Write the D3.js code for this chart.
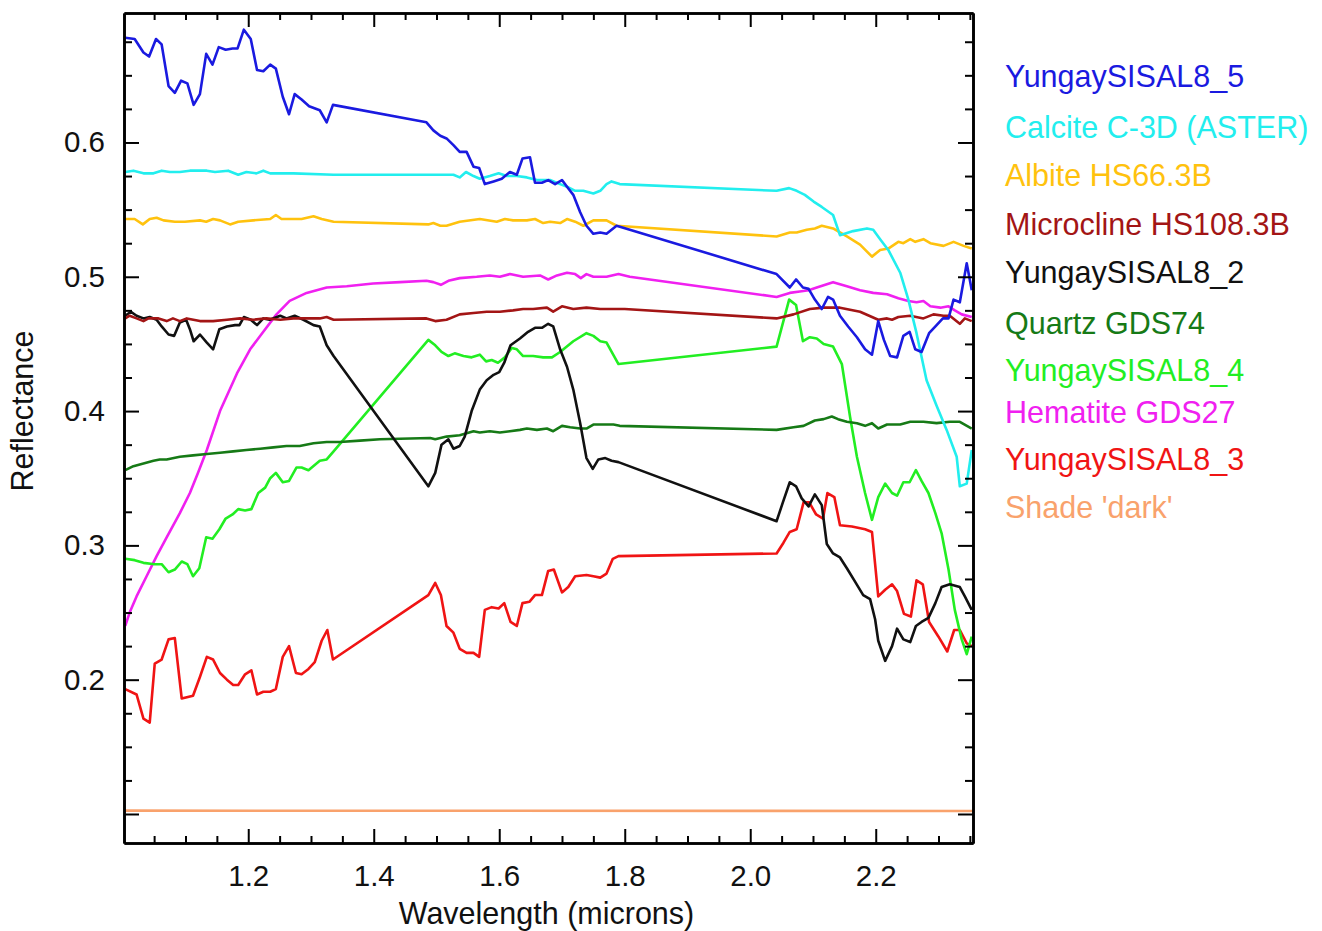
<!DOCTYPE html>
<html>
<head>
<meta charset="utf-8">
<script src="https://cdn.jsdelivr.net/npm/d3@7"></script>
<style>
  body { margin: 0; background: #fff; }
  text { font-family: "Liberation Sans", Arial, sans-serif; }
</style>
</head>
<body>
<script>
// spectra, [wavelength (microns), reflectance]
const yungay5 = [[1.004,0.678],[1.019,0.677],[1.033,0.667],[1.042,0.664],[1.053,0.677],[1.062,0.673],[1.073,0.642],[1.083,0.637],[1.093,0.646],[1.103,0.644],[1.113,0.628],[1.123,0.636],[1.133,0.666],[1.143,0.658],[1.153,0.671],[1.164,0.669],[1.175,0.670],[1.183,0.670],[1.193,0.684],[1.204,0.677],[1.214,0.654],[1.224,0.653],[1.235,0.658],[1.244,0.655],[1.255,0.634],[1.265,0.621],[1.274,0.636],[1.285,0.632],[1.297,0.627],[1.314,0.624],[1.325,0.615],[1.335,0.628],[1.484,0.615],[1.495,0.609],[1.506,0.605],[1.516,0.603],[1.527,0.598],[1.537,0.593],[1.548,0.593],[1.559,0.582],[1.568,0.581],[1.577,0.569],[1.591,0.571],[1.604,0.573],[1.617,0.578],[1.628,0.576],[1.637,0.588],[1.649,0.589],[1.657,0.570],[1.668,0.570],[1.678,0.572],[1.689,0.569],[1.700,0.572],[1.708,0.567],[1.718,0.561],[1.729,0.548],[1.739,0.538],[1.750,0.532],[1.761,0.533],[1.771,0.532],[1.787,0.538],[2.042,0.502],[2.063,0.492],[2.073,0.498],[2.084,0.492],[2.093,0.491],[2.103,0.483],[2.114,0.476],[2.124,0.485],[2.132,0.483],[2.143,0.471],[2.156,0.463],[2.170,0.455],[2.183,0.446],[2.194,0.442],[2.204,0.467],[2.213,0.453],[2.223,0.441],[2.234,0.440],[2.244,0.456],[2.254,0.459],[2.263,0.446],[2.273,0.444],[2.285,0.458],[2.297,0.464],[2.307,0.469],[2.316,0.469],[2.324,0.483],[2.334,0.481],[2.345,0.510],[2.353,0.490]];

const calcite = [[1.004,0.578],[1.017,0.579],[1.033,0.577],[1.049,0.577],[1.062,0.579],[1.075,0.578],[1.091,0.578],[1.107,0.579],[1.123,0.579],[1.134,0.579],[1.147,0.578],[1.168,0.579],[1.184,0.576],[1.197,0.578],[1.213,0.577],[1.224,0.579],[1.235,0.577],[1.272,0.577],[1.336,0.576],[1.490,0.576],[1.527,0.576],[1.537,0.574],[1.547,0.578],[1.559,0.575],[1.569,0.573],[1.585,0.575],[1.599,0.577],[1.612,0.575],[1.628,0.575],[1.644,0.574],[1.660,0.572],[1.670,0.572],[1.681,0.572],[1.697,0.569],[1.708,0.567],[1.721,0.564],[1.734,0.564],[1.750,0.562],[1.761,0.564],[1.771,0.569],[1.779,0.571],[1.792,0.569],[2.042,0.564],[2.062,0.566],[2.074,0.564],[2.087,0.561],[2.101,0.556],[2.114,0.552],[2.132,0.546],[2.143,0.531],[2.164,0.534],[2.186,0.536],[2.196,0.535],[2.207,0.528],[2.220,0.520],[2.239,0.503],[2.252,0.483],[2.265,0.458],[2.281,0.423],[2.297,0.404],[2.313,0.386],[2.329,0.366],[2.334,0.344],[2.345,0.346],[2.353,0.371]];

const albite = [[1.004,0.543],[1.019,0.543],[1.032,0.539],[1.043,0.543],[1.054,0.544],[1.065,0.542],[1.083,0.541],[1.099,0.541],[1.123,0.542],[1.133,0.541],[1.144,0.543],[1.155,0.542],[1.171,0.539],[1.184,0.541],[1.208,0.542],[1.235,0.543],[1.244,0.546],[1.253,0.543],[1.272,0.543],[1.285,0.543],[1.304,0.545],[1.317,0.543],[1.336,0.541],[1.487,0.539],[1.495,0.540],[1.506,0.538],[1.516,0.538],[1.537,0.541],[1.569,0.543],[1.596,0.541],[1.609,0.543],[1.622,0.542],[1.644,0.542],[1.657,0.543],[1.670,0.540],[1.681,0.541],[1.697,0.540],[1.708,0.543],[1.721,0.541],[1.734,0.538],[1.750,0.542],[1.771,0.542],[1.787,0.538],[2.042,0.530],[2.063,0.533],[2.074,0.533],[2.090,0.535],[2.103,0.536],[2.114,0.538],[2.132,0.536],[2.154,0.530],[2.175,0.524],[2.194,0.515],[2.207,0.520],[2.220,0.521],[2.236,0.526],[2.244,0.525],[2.255,0.528],[2.263,0.526],[2.276,0.528],[2.287,0.525],[2.308,0.523],[2.324,0.526],[2.340,0.523],[2.353,0.521]];

const microcline = [[1.004,0.469],[1.011,0.471],[1.022,0.469],[1.033,0.467],[1.041,0.469],[1.057,0.469],[1.070,0.467],[1.080,0.469],[1.091,0.467],[1.102,0.469],[1.123,0.467],[1.144,0.467],[1.166,0.468],[1.187,0.469],[1.208,0.468],[1.229,0.469],[1.251,0.468],[1.272,0.469],[1.293,0.469],[1.314,0.469],[1.325,0.470],[1.336,0.468],[1.484,0.469],[1.498,0.467],[1.516,0.468],[1.537,0.472],[1.559,0.473],[1.580,0.474],[1.601,0.474],[1.622,0.475],[1.638,0.476],[1.654,0.476],[1.676,0.477],[1.686,0.474],[1.700,0.478],[1.718,0.476],[1.739,0.477],[1.761,0.476],[1.782,0.476],[1.800,0.476],[2.042,0.469],[2.069,0.472],[2.095,0.476],[2.117,0.477],[2.143,0.477],[2.175,0.474],[2.204,0.468],[2.218,0.469],[2.226,0.468],[2.236,0.470],[2.255,0.471],[2.276,0.469],[2.292,0.472],[2.308,0.471],[2.318,0.471],[2.334,0.465],[2.342,0.469],[2.353,0.467]];

const yungay2 = [[1.004,0.471],[1.013,0.474],[1.022,0.471],[1.033,0.469],[1.043,0.470],[1.054,0.468],[1.062,0.463],[1.073,0.457],[1.082,0.456],[1.091,0.466],[1.101,0.468],[1.107,0.461],[1.113,0.452],[1.123,0.457],[1.134,0.451],[1.144,0.446],[1.154,0.461],[1.166,0.463],[1.179,0.464],[1.186,0.464],[1.193,0.470],[1.204,0.468],[1.214,0.464],[1.224,0.469],[1.234,0.468],[1.251,0.471],[1.261,0.469],[1.274,0.471],[1.288,0.468],[1.304,0.464],[1.314,0.463],[1.325,0.449],[1.336,0.441],[1.487,0.344],[1.498,0.354],[1.508,0.375],[1.519,0.379],[1.527,0.372],[1.537,0.374],[1.545,0.381],[1.556,0.400],[1.569,0.416],[1.580,0.423],[1.591,0.427],[1.600,0.429],[1.608,0.436],[1.618,0.449],[1.633,0.454],[1.646,0.459],[1.657,0.462],[1.668,0.462],[1.678,0.465],[1.686,0.463],[1.697,0.446],[1.708,0.433],[1.718,0.416],[1.729,0.391],[1.739,0.365],[1.749,0.357],[1.758,0.364],[1.769,0.365],[1.779,0.363],[1.790,0.362],[2.042,0.318],[2.052,0.332],[2.063,0.347],[2.073,0.344],[2.082,0.335],[2.093,0.329],[2.103,0.338],[2.114,0.330],[2.122,0.301],[2.132,0.294],[2.143,0.291],[2.154,0.283],[2.167,0.273],[2.180,0.263],[2.191,0.260],[2.199,0.245],[2.204,0.229],[2.215,0.214],[2.226,0.225],[2.234,0.238],[2.244,0.230],[2.255,0.228],[2.264,0.240],[2.273,0.243],[2.284,0.246],[2.295,0.257],[2.305,0.269],[2.318,0.271],[2.334,0.269],[2.342,0.262],[2.353,0.252]];

const quartz = [[1.004,0.356],[1.017,0.359],[1.033,0.361],[1.049,0.363],[1.059,0.364],[1.070,0.364],[1.091,0.366],[1.112,0.367],[1.134,0.368],[1.155,0.369],[1.176,0.370],[1.197,0.371],[1.219,0.372],[1.240,0.373],[1.261,0.374],[1.282,0.374],[1.304,0.376],[1.325,0.377],[1.346,0.377],[1.378,0.378],[1.410,0.379],[1.490,0.380],[1.498,0.379],[1.516,0.381],[1.537,0.382],[1.559,0.385],[1.569,0.384],[1.585,0.385],[1.601,0.384],[1.617,0.385],[1.633,0.386],[1.644,0.387],[1.660,0.386],[1.676,0.387],[1.686,0.385],[1.700,0.389],[1.713,0.388],[1.729,0.387],[1.739,0.387],[1.750,0.390],[1.766,0.390],[1.782,0.390],[1.792,0.389],[2.042,0.386],[2.069,0.388],[2.085,0.389],[2.103,0.393],[2.117,0.394],[2.130,0.396],[2.140,0.394],[2.154,0.392],[2.170,0.391],[2.183,0.389],[2.194,0.391],[2.204,0.387],[2.218,0.390],[2.239,0.390],[2.255,0.392],[2.276,0.392],[2.297,0.391],[2.318,0.392],[2.334,0.392],[2.353,0.387]];

const yungay4 = [[1.004,0.290],[1.019,0.289],[1.033,0.287],[1.051,0.286],[1.062,0.286],[1.073,0.280],[1.083,0.282],[1.094,0.288],[1.103,0.286],[1.112,0.277],[1.122,0.283],[1.133,0.306],[1.143,0.305],[1.154,0.312],[1.164,0.320],[1.175,0.323],[1.184,0.327],[1.195,0.326],[1.205,0.327],[1.216,0.339],[1.227,0.343],[1.235,0.350],[1.244,0.354],[1.255,0.347],[1.265,0.348],[1.277,0.358],[1.285,0.358],[1.296,0.356],[1.314,0.363],[1.325,0.364],[1.336,0.370],[1.487,0.453],[1.498,0.449],[1.508,0.444],[1.519,0.441],[1.529,0.443],[1.543,0.441],[1.556,0.440],[1.569,0.442],[1.579,0.437],[1.588,0.438],[1.598,0.436],[1.609,0.440],[1.620,0.447],[1.628,0.446],[1.638,0.441],[1.654,0.441],[1.670,0.440],[1.684,0.440],[1.697,0.444],[1.718,0.452],[1.739,0.458],[1.750,0.456],[1.761,0.452],[1.771,0.451],[1.790,0.435],[2.042,0.448],[2.062,0.483],[2.073,0.479],[2.084,0.452],[2.095,0.455],[2.106,0.454],[2.117,0.450],[2.132,0.448],[2.146,0.435],[2.159,0.396],[2.170,0.366],[2.183,0.339],[2.194,0.319],[2.204,0.336],[2.215,0.346],[2.226,0.339],[2.234,0.337],[2.244,0.347],[2.254,0.347],[2.264,0.356],[2.273,0.348],[2.284,0.339],[2.295,0.324],[2.305,0.309],[2.316,0.282],[2.326,0.252],[2.337,0.230],[2.345,0.219],[2.353,0.232]];

const hematite = [[1.004,0.240],[1.011,0.250],[1.022,0.262],[1.038,0.277],[1.054,0.292],[1.070,0.306],[1.091,0.324],[1.107,0.339],[1.120,0.354],[1.134,0.371],[1.155,0.400],[1.182,0.428],[1.203,0.446],[1.224,0.459],[1.245,0.472],[1.266,0.482],[1.293,0.488],[1.325,0.492],[1.357,0.493],[1.399,0.495],[1.442,0.496],[1.484,0.497],[1.495,0.496],[1.507,0.494],[1.519,0.497],[1.537,0.499],[1.564,0.500],[1.585,0.501],[1.601,0.500],[1.617,0.502],[1.638,0.500],[1.665,0.501],[1.678,0.498],[1.692,0.501],[1.708,0.503],[1.721,0.502],[1.730,0.499],[1.739,0.502],[1.750,0.500],[1.771,0.500],[1.790,0.502],[1.808,0.500],[2.042,0.485],[2.063,0.488],[2.079,0.489],[2.093,0.490],[2.106,0.492],[2.132,0.496],[2.154,0.493],[2.175,0.490],[2.196,0.488],[2.218,0.487],[2.236,0.484],[2.252,0.482],[2.265,0.481],[2.276,0.482],[2.287,0.478],[2.303,0.477],[2.316,0.478],[2.326,0.475],[2.337,0.472],[2.353,0.470]];

const yungay3 = [[1.004,0.193],[1.022,0.189],[1.033,0.171],[1.043,0.168],[1.051,0.212],[1.062,0.215],[1.073,0.230],[1.083,0.231],[1.094,0.186],[1.112,0.188],[1.123,0.202],[1.134,0.217],[1.144,0.215],[1.155,0.205],[1.166,0.200],[1.176,0.196],[1.184,0.196],[1.195,0.204],[1.205,0.207],[1.214,0.189],[1.224,0.191],[1.235,0.191],[1.244,0.193],[1.255,0.217],[1.265,0.225],[1.276,0.205],[1.285,0.204],[1.296,0.208],[1.306,0.213],[1.317,0.229],[1.326,0.237],[1.335,0.215],[1.487,0.263],[1.498,0.272],[1.507,0.263],[1.516,0.240],[1.527,0.235],[1.537,0.223],[1.548,0.220],[1.559,0.220],[1.568,0.217],[1.577,0.252],[1.588,0.254],[1.599,0.253],[1.608,0.257],[1.618,0.243],[1.628,0.240],[1.637,0.257],[1.648,0.258],[1.657,0.263],[1.668,0.263],[1.678,0.281],[1.687,0.282],[1.700,0.265],[1.710,0.269],[1.721,0.277],[1.739,0.278],[1.750,0.277],[1.761,0.276],[1.771,0.279],[1.781,0.290],[1.790,0.292],[2.042,0.294],[2.053,0.302],[2.063,0.310],[2.074,0.312],[2.085,0.332],[2.094,0.332],[2.105,0.323],[2.116,0.320],[2.123,0.339],[2.134,0.336],[2.143,0.315],[2.162,0.314],[2.183,0.312],[2.194,0.310],[2.204,0.262],[2.215,0.267],[2.226,0.271],[2.234,0.266],[2.245,0.249],[2.256,0.247],[2.265,0.274],[2.275,0.271],[2.285,0.243],[2.300,0.232],[2.314,0.221],[2.325,0.237],[2.334,0.237],[2.345,0.227],[2.353,0.225]];

const shadeDark = [[1.002,0.1025],[1.5,0.1024],[2.0,0.1023],[2.355,0.1022]];

const seriesNames = ["YungaySISAL8_5", "Calcite C-3D (ASTER)", "Albite HS66.3B", "Microcline HS108.3B",
  "YungaySISAL8_2", "Quartz GDS74", "YungaySISAL8_4", "Hematite GDS27", "YungaySISAL8_3", "Shade 'dark'"];
const seriesValues = [yungay5, calcite, albite, microcline, yungay2, quartz, yungay4, hematite, yungay3, shadeDark];

const xMajorTicks = [1.2, 1.4, 1.6, 1.8, 2.0, 2.2];
const yMajorTicks = [0.1, 0.2, 0.3, 0.4, 0.5, 0.6];
const yTickLabels = [0.2, 0.3, 0.4, 0.5, 0.6];

// styling
const colors = ["#1a1ae0", "#22eeee", "#ffc20e", "#a31515", "#111111", "#167a16", "#22ee22", "#f020f0", "#f01414", "#f9a26c"];
const legendY = [87, 138, 186, 235, 283, 334, 381, 423, 470, 518];

const W = 1322, H = 931;
const margin = {top: 13, right: 349, bottom: 88, left: 124};

const svg = d3.select("body").append("svg")
    .attr("width", W)
    .attr("height", H);

const x = d3.scaleLinear()
    .domain([1.002, 2.355])
    .range([margin.left, W - margin.right]);
const y = d3.scaleLinear()
    .domain([0.0784, 0.6964])
    .range([H - margin.bottom, margin.top]);

svg.append("clipPath").attr("id", "plot")
  .append("rect")
    .attr("x", margin.left).attr("y", margin.top)
    .attr("width", W - margin.left - margin.right)
    .attr("height", H - margin.top - margin.bottom);

// lines (first legend entry drawn last, so on top)
const line = d3.line()
    .x(d => x(d[0]))
    .y(d => y(d[1]));

svg.append("g")
    .attr("clip-path", "url(#plot)")
  .selectAll("path")
  .data(seriesValues.map((v, i) => ({v, i})).reverse())
  .join("path")
    .attr("d", d => line(d.v))
    .attr("fill", "none")
    .attr("stroke", d => colors[d.i])
    .attr("stroke-width", 2.6)
    .attr("stroke-linejoin", "round");

// axes, ticks pointing inward on all four sides
const xMinor = d3.range(21, 48).map(k => k * 0.05).filter(v => v > 1.002 && v < 2.355 && Math.abs(v / 0.2 - Math.round(v / 0.2)) > 1e-6);
const yMinor = d3.range(4, 28).map(k => k * 0.025).filter(v => Math.abs(v / 0.1 - Math.round(v / 0.1)) > 1e-6);
const fmt = d3.format(".1f");

function styleAxis(g) {
  g.selectAll(".domain").attr("stroke", "#000").attr("stroke-width", 2.6);
  g.selectAll(".tick line").attr("stroke", "#000").attr("stroke-width", 2);
  g.selectAll("text").attr("font-family", "Liberation Sans, Arial, sans-serif").attr("font-size", 29.5).attr("fill", "#111");
}

const bottomY = H - margin.bottom, rightX = W - margin.right;

svg.append("g").attr("transform", `translate(0,${bottomY})`)
    .call(d3.axisBottom(x).tickValues(xMajorTicks).tickFormat(fmt).tickSize(-14).tickSizeOuter(0).tickPadding(22))
    .call(styleAxis);
svg.append("g").attr("transform", `translate(0,${bottomY})`)
    .call(d3.axisBottom(x).tickValues(xMinor).tickFormat("").tickSize(-7).tickSizeOuter(0))
    .call(styleAxis);
svg.append("g").attr("transform", `translate(0,${margin.top})`)
    .call(d3.axisTop(x).tickValues(xMajorTicks).tickFormat("").tickSize(-14).tickSizeOuter(0))
    .call(styleAxis);
svg.append("g").attr("transform", `translate(0,${margin.top})`)
    .call(d3.axisTop(x).tickValues(xMinor).tickFormat("").tickSize(-7).tickSizeOuter(0))
    .call(styleAxis);

svg.append("g").attr("transform", `translate(${margin.left},0)`)
    .call(d3.axisLeft(y).tickValues(yMajorTicks).tickFormat(v => yTickLabels.some(t => Math.abs(t - v) < 1e-6) ? fmt(v) : "").tickSize(-15).tickSizeOuter(0).tickPadding(19))
    .call(styleAxis);
svg.append("g").attr("transform", `translate(${margin.left},0)`)
    .call(d3.axisLeft(y).tickValues(yMinor).tickFormat("").tickSize(-8).tickSizeOuter(0))
    .call(styleAxis);
svg.append("g").attr("transform", `translate(${rightX},0)`)
    .call(d3.axisRight(y).tickValues(yMajorTicks).tickFormat("").tickSize(-15).tickSizeOuter(0))
    .call(styleAxis);
svg.append("g").attr("transform", `translate(${rightX},0)`)
    .call(d3.axisRight(y).tickValues(yMinor).tickFormat("").tickSize(-8).tickSizeOuter(0))
    .call(styleAxis);

// axis titles
svg.append("text")
    .attr("x", (margin.left + rightX) / 2 - 2)
    .attr("y", 924)
    .attr("text-anchor", "middle")
    .attr("font-size", 30.5)
    .attr("fill", "#111")
    .text("Wavelength (microns)");

svg.append("text")
    .attr("transform", "translate(33,411) rotate(-90)")
    .attr("text-anchor", "middle")
    .attr("font-size", 30.5)
    .attr("fill", "#111")
    .text("Reflectance");

// legend
svg.append("g")
  .selectAll("text")
  .data(seriesNames)
  .join("text")
    .attr("x", 1005)
    .attr("y", (d, i) => legendY[i])
    .attr("font-size", 30.5)
    .attr("fill", (d, i) => colors[i])
    .text(d => d);
</script>
</body>
</html>
